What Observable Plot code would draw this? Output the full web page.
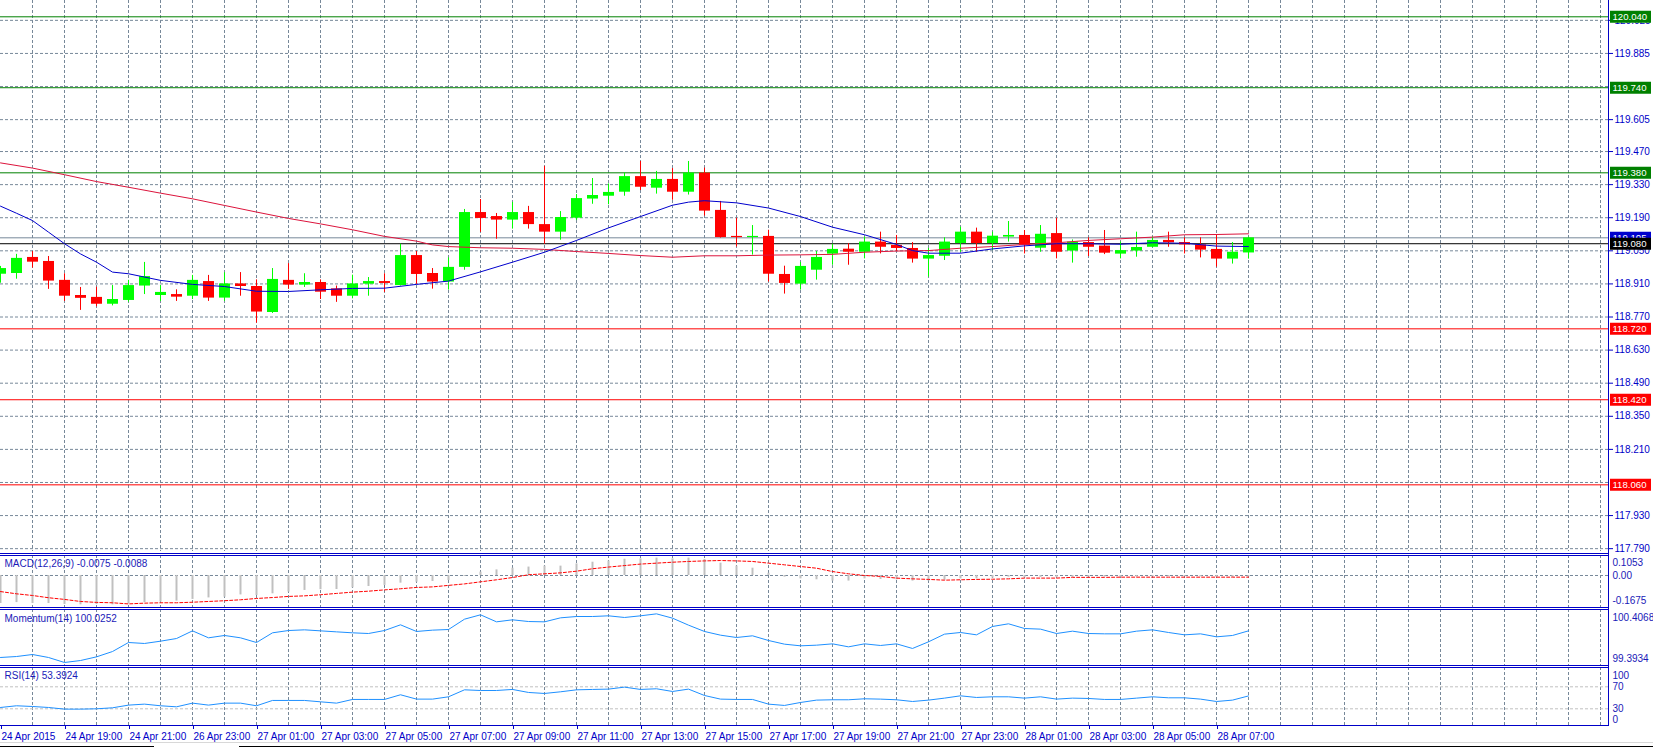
<!DOCTYPE html>
<html><head><meta charset="utf-8">
<script src="https://cdn.jsdelivr.net/npm/d3@7"></script>
<script src="https://cdn.jsdelivr.net/npm/@observablehq/plot@0.6"></script>
<style>
html,body{margin:0;padding:0;background:#fff;}
#chart{position:relative;width:1653px;height:747px;overflow:hidden;background:#fff;}
#chart svg{position:absolute;left:0;max-width:none !important;}
.hl{position:absolute;height:1px;}
</style></head><body><div id="chart"></div>
<script>
// ---------- DATA ----------
const open = [118.951,118.954,119.022,119.005,118.925,118.861,118.853,118.824,118.840,118.901,118.861,118.865,118.858,118.920,118.850,118.910,118.899,118.789,118.925,118.905,118.916,118.889,118.858,118.909,118.920,118.903,119.030,118.954,118.918,118.980,119.212,119.195,119.180,119.212,119.161,119.129,119.188,119.269,119.281,119.298,119.364,119.315,119.352,119.298,119.379,119.221,119.111,119.106,119.111,118.950,118.909,118.968,119.036,119.057,119.044,119.087,119.073,119.060,119.015,119.027,119.081,119.129,119.081,119.108,119.115,119.061,119.123,119.049,119.085,119.070,119.036,119.049,119.065,119.094,119.085,119.075,119.056,119.015,119.041];
const high = [118.984,119.035,119.047,119.026,118.953,118.895,118.896,118.903,118.925,119.001,118.903,118.885,118.946,118.946,118.957,118.958,118.927,118.975,118.996,118.953,118.927,118.901,118.947,118.937,118.953,119.078,119.047,118.975,119.020,119.225,119.267,119.208,119.255,119.238,119.407,119.216,119.288,119.356,119.333,119.379,119.428,119.386,119.398,119.428,119.400,119.259,119.188,119.157,119.137,118.985,119.001,119.047,119.078,119.080,119.108,119.129,119.115,119.085,119.060,119.105,119.150,119.146,119.129,119.174,119.136,119.157,119.188,119.096,119.105,119.136,119.087,119.129,119.108,119.129,119.105,119.105,119.118,119.085,119.108];
const low = [118.913,118.930,118.977,118.887,118.836,118.798,118.813,118.817,118.833,118.865,118.836,118.836,118.844,118.836,118.836,118.858,118.744,118.785,118.887,118.895,118.844,118.832,118.847,118.858,118.874,118.901,118.908,118.888,118.884,118.968,119.128,119.099,119.142,119.142,119.078,119.095,119.178,119.247,119.245,119.281,119.305,119.290,119.264,119.286,119.197,119.104,119.066,119.032,118.918,118.867,118.884,118.926,118.989,118.989,119.016,119.037,119.047,118.998,118.939,119.009,119.044,119.044,119.051,119.087,119.037,119.044,119.016,118.998,119.026,119.034,119.016,119.023,119.063,119.065,119.037,119.020,118.981,118.994,119.015];
const close = [118.975,119.018,119.002,118.922,118.858,118.849,118.824,118.844,118.903,118.941,118.874,118.854,118.925,118.850,118.910,118.899,118.791,118.929,118.905,118.916,118.875,118.858,118.910,118.920,118.912,119.030,118.950,118.918,118.980,119.212,119.187,119.180,119.212,119.161,119.129,119.191,119.271,119.284,119.297,119.364,119.319,119.352,119.298,119.379,119.218,119.106,119.106,119.111,118.951,118.912,118.984,119.022,119.056,119.044,119.087,119.065,119.060,119.015,119.030,119.087,119.129,119.081,119.112,119.115,119.073,119.120,119.044,119.087,119.065,119.040,119.051,119.064,119.094,119.084,119.075,119.053,119.015,119.044,119.105];

const fastIdx = [0,1,2,3,4,5,6,7,8,10,12,14,16,18,20,22,24,26,28,30,32,34,36,38,40,42,43,44,46,48,50,52,54,56,57,58,60,62,64,66,68,70,72,74,76,78];
const fastVal = [119.239,119.209,119.178,119.129,119.080,119.037,119.002,118.960,118.953,118.925,118.908,118.899,118.879,118.878,118.885,118.891,118.892,118.908,118.922,118.961,119.002,119.044,119.094,119.147,119.195,119.243,119.256,119.262,119.253,119.231,119.195,119.150,119.118,119.077,119.051,119.040,119.040,119.058,119.071,119.080,119.080,119.078,119.084,119.082,119.070,119.068];
const slowIdx = [0,2,4,6,8,10,12,14,16,18,20,22,24,26,27,28,30,32,34,36,38,40,42,44,46,48,50,52,54,56,58,60,62,64,66,68,70,72,74,76,78];
const slowVal = [119.422,119.400,119.372,119.343,119.319,119.294,119.270,119.242,119.214,119.187,119.164,119.139,119.111,119.091,119.075,119.068,119.063,119.061,119.056,119.047,119.039,119.030,119.023,119.029,119.029,119.032,119.033,119.035,119.044,119.049,119.051,119.061,119.068,119.077,119.084,119.094,119.101,119.108,119.118,119.119,119.122];

const macdMain = [-0.150,-0.145,-0.150,-0.150,-0.155,-0.157,-0.155,-0.157,-0.152,-0.145,-0.142,-0.137,-0.128,-0.120,-0.116,-0.104,-0.107,-0.098,-0.089,-0.080,-0.076,-0.075,-0.066,-0.059,-0.053,-0.041,-0.036,-0.032,-0.027,-0.005,0.018,0.030,0.039,
0.045,0.050,0.050,0.062,0.071,0.077,0.087,0.089,0.093,0.089,0.093,0.086,0.066,0.050,0.039,0.012,-0.009,-0.018,-0.023,-0.030,-0.030,-0.018,-0.021,-0.023,-0.030,-0.030,-0.025,-0.018,-0.018,-0.014,-0.009,-0.012,
-0.010,-0.012,-0.010,-0.008,-0.008,-0.009,-0.008,-0.006,-0.005,-0.006,-0.007,-0.010,-0.010,-0.0075];
const macdSignal = [-0.086,-0.098,-0.107,-0.119,-0.128,-0.139,-0.144,-0.146,-0.152,-0.148,-0.146,-0.146,-0.143,-0.139,-0.135,-0.130,-0.123,-0.118,-0.112,-0.109,-0.103,-0.096,-0.089,-0.084,-0.077,-0.071,-0.064,-0.061,-0.053,-0.045,-0.034,-0.023,-0.011,
0.004,0.009,0.014,0.023,0.036,0.045,0.053,0.061,0.066,0.071,0.075,0.078,0.080,0.078,0.075,0.066,0.057,0.048,0.039,0.021,0.009,0.000,-0.005,-0.014,-0.018,-0.021,-0.025,-0.023,-0.021,-0.020,-0.018,-0.014,
-0.014,-0.014,-0.010,-0.010,-0.010,-0.009,-0.009,-0.009,-0.009,-0.009,-0.009,-0.009,-0.009,-0.0088];
const momentum = [99.525,99.543,99.581,99.525,99.431,99.468,99.537,99.637,99.806,99.788,99.831,99.881,100.025,99.894,99.938,99.894,99.806,99.988,100.031,100.044,100.025,100.006,99.988,99.975,100.031,100.138,100.013,100.038,100.050,100.244,100.326,100.194,100.232,
100.200,100.194,100.269,100.294,100.294,100.307,100.276,100.307,100.344,100.263,100.132,100.013,99.944,99.900,99.932,99.844,99.775,99.744,99.756,99.781,99.725,99.781,99.750,99.781,99.694,99.819,99.963,99.994,99.950,100.107,100.157,100.069,
100.057,99.975,100.019,99.975,99.969,99.969,100.019,100.044,99.994,99.950,99.969,99.913,99.938,100.025];
const rsi = [32.4,35.5,34.2,32.4,29.4,29.4,30.0,31.8,36.7,38.5,35.5,33.6,40.3,36.7,40.3,40.3,35.5,45.2,45.2,45.2,42.7,40.3,47.0,47.0,47.0,55.5,47.6,47.6,51.8,64.5,63.3,63.3,65.2,
59.7,57.9,60.9,64.5,65.2,65.8,69.4,65.2,66.4,61.5,65.8,54.2,47.6,47.0,47.0,38.5,36.1,41.5,45.8,46.4,46.4,48.2,47.6,46.4,43.3,45.8,49.4,53.6,50.6,51.8,51.8,49.4,
51.8,47.6,49.4,48.8,47.0,47.0,49.4,51.8,50.0,50.0,47.6,43.3,45.8,53.39];

// grid levels of the price panel, and the tick labels that are visible (others sit under level boxes)
const priceTicks = [120.025,119.885,119.745,119.605,119.470,119.330,119.190,119.050,118.910,118.770,118.630,118.490,118.350,118.210,118.070,117.930,117.790];
const priceTickLabels = [120.025,119.885,119.605,119.470,119.330,119.190,119.050,118.910,118.770,118.630,118.490,118.350,118.210,117.930,117.790];
const greenLevels = [120.040,119.740,119.380];
const redLevels = [118.720,118.420,118.060];
const bidLevel = [119.105];
const markLevel = [119.080];

const timeTickIdx = [0,4,8,12,16,20,24,28,32,36,40,44,48,52,56,60,64,68,72,76];
const timeLabels = ["24 Apr 2015","24 Apr 19:00","24 Apr 21:00","26 Apr 23:00","27 Apr 01:00","27 Apr 03:00","27 Apr 05:00","27 Apr 07:00","27 Apr 09:00","27 Apr 11:00","27 Apr 13:00","27 Apr 15:00","27 Apr 17:00","27 Apr 19:00","27 Apr 21:00","27 Apr 23:00","28 Apr 01:00","28 Apr 03:00","28 Apr 05:00","28 Apr 07:00"];

const macdTitle = "MACD(12,26,9) -0.0075 -0.0088";
const momTitle = "Momentum(14) 100.0252";
const rsiTitle = "RSI(14) 53.3924";
const macdTicks = [0.1053, 0, -0.1675], macdTickText = ["0.1053","0.00","-0.1675"];
const momTicks = [100.4068, 99.3934], momTickText = ["100.4068","99.3934"];
const rsiTicks = [100, 70, 30, 0];

// ---------- STYLE ----------
const FONT = '"Liberation Sans", Arial, sans-serif';
const FS = 10;
const AXIS = "#0000c8", TXT = "#1a1ab8", GRID = "#778899";
const UP = "#00ff00", DN = "#ff0000";
const gridIdx = d3.range(2, 101, 2);
const xOpt = {domain: [0, 100.5], range: [0, 1608], axis: null};

const candles = open.map((o, i) => ({i, open: o, high: high[i], low: low[i], close: close[i]}));
const cColor = d => d.close >= d.open ? UP : DN;
const fmt3 = d3.format(".3f");

function mk(top, h, mt, mb, yOpt, marks) {
  const svg = Plot.plot({
    width: 1653, height: h, marginTop: mt, marginBottom: mb, marginLeft: 0, marginRight: 45,
    x: xOpt, y: {...yOpt, axis: null}, color: {type: "identity"},
    style: {fontFamily: FONT, fontSize: FS + "px", background: "transparent", overflow: "visible"},
    marks
  });
  svg.style.top = top + "px";
  document.getElementById("chart").appendChild(svg);
}

function levelBox(vals, color) {
  return [
    Plot.ruleY(vals, {stroke: color, strokeWidth: 12, insetLeft: 1610, insetRight: -43}),
    Plot.text(vals, {y: d => d, text: d => fmt3(d), frameAnchor: "right", textAnchor: "start", dx: 4, fill: "#ffffff", fontSize: 9.6})
  ];
}
function sideLabel(vals, texts, anchor, dy) {
  return Plot.text(vals, {y: d => d, text: (d, k) => texts[k], frameAnchor: "right", textAnchor: "start", lineAnchor: anchor, dx: 4, dy, fill: TXT, fontSize: FS});
}

// ---------- MAIN PRICE PANEL ----------
mk(0, 553, 0, 2, {domain: [117.778, 120.109], range: [551, 0]}, [
  Plot.ruleX(gridIdx, {stroke: GRID, strokeDasharray: "3,2"}),
  Plot.ruleY(priceTicks, {stroke: GRID, strokeDasharray: "3,2"}),
  Plot.ruleY(greenLevels, {stroke: "#008000"}),
  Plot.ruleY(redLevels, {stroke: "#ff0000"}),
  Plot.ruleY(bidLevel, {stroke: GRID}),
  Plot.ruleY(markLevel, {stroke: "#000000"}),
  Plot.ruleX(candles, {x: "i", y1: "low", y2: "high", stroke: cColor, strokeWidth: 1}),
  Plot.ruleX(candles, {x: "i", y1: "open", y2: "close", stroke: cColor, strokeWidth: 11}),
  Plot.line(slowVal, {x: (d, k) => slowIdx[k], y: d => d, stroke: "#dc143c", strokeWidth: 1}),
  Plot.line(fastVal, {x: (d, k) => fastIdx[k], y: d => d, stroke: "#0000cd", strokeWidth: 1}),
  Plot.axisY(priceTickLabels, {anchor: "right", tickSize: 4, tickPadding: 2, tickFormat: fmt3, color: AXIS, fontSize: FS}),
  ...levelBox(greenLevels, "#008000"),
  ...levelBox(redLevels, "#ff0000"),
  ...levelBox(bidLevel, "#0000cd"),
  ...levelBox(markLevel, "#000000")
]);

// ---------- MACD PANEL ----------
mk(553, 54, 2, 0, {domain: [-0.1675, 0.1053], range: [53.3, 2.3]}, [
  Plot.ruleX(gridIdx, {stroke: GRID, strokeDasharray: "3,2"}),
  Plot.ruleY([0], {stroke: GRID, strokeDasharray: "3,2"}),
  Plot.ruleX(macdMain, {x: (d, k) => k, y1: 0, y2: d => d, stroke: "#c0c0c0", strokeWidth: 2}),
  Plot.line(macdSignal, {x: (d, k) => k, y: d => d, stroke: "#ff0000", strokeWidth: 1, strokeDasharray: "3,2"}),
  Plot.text([macdTitle], {frameAnchor: "top-left", text: d => d, textAnchor: "start", lineAnchor: "top", dx: 4, dy: 4.3, fill: TXT, fontSize: FS}),
  sideLabel([macdTicks[0]], [macdTickText[0]], "top", 3),
  sideLabel([macdTicks[1]], [macdTickText[1]], "middle", 0),
  sideLabel([macdTicks[2]], [macdTickText[2]], "bottom", -3)
]);

// ---------- MOMENTUM PANEL ----------
mk(607, 60, 2, 2, {domain: [99.3934, 100.4068], range: [57, 3]}, [
  Plot.ruleX(gridIdx, {stroke: GRID, strokeDasharray: "3,2"}),
  Plot.line(momentum, {x: (d, k) => k, y: d => d, stroke: "#1e90ff", strokeWidth: 1}),
  Plot.text([momTitle], {frameAnchor: "top-left", text: d => d, textAnchor: "start", lineAnchor: "top", dx: 4, dy: 5.7, fill: TXT, fontSize: FS}),
  sideLabel([momTicks[0]], [momTickText[0]], "top", 3.3),
  sideLabel([momTicks[1]], [momTickText[1]], "bottom", -2.7)
]);

// ---------- RSI PANEL + TIME AXIS ----------
const timeMap = new Map(timeTickIdx.map((d, k) => [d, timeLabels[k]]));
mk(667, 80, 0, 22, {domain: [0, 100], range: [57.8, 2.8]}, [
  Plot.ruleX(gridIdx, {stroke: GRID, strokeDasharray: "3,2"}),
  Plot.ruleY([70, 30], {stroke: "#c0c0c0", strokeDasharray: "3,2"}),
  Plot.line(rsi, {x: (d, k) => k, y: d => d, stroke: "#1e90ff", strokeWidth: 1}),
  Plot.text([rsiTitle], {frameAnchor: "top-left", text: d => d, textAnchor: "start", lineAnchor: "top", dx: 4, dy: 4.7, fill: TXT, fontSize: FS}),
  sideLabel([rsiTicks[0]], ["100"], "top", 2),
  sideLabel([rsiTicks[1], rsiTicks[2]], ["70", "30"], "middle", 0),
  sideLabel([rsiTicks[3]], ["0"], "bottom", -2),
  Plot.axisX(timeTickIdx, {anchor: "bottom", tickSize: 4, tickPadding: 3, tickFormat: d => timeMap.get(d), textAnchor: "start", dx: 1, color: AXIS, fontSize: FS})
]);

// ---------- PANEL BORDERS (decoration) ----------
const chart = document.getElementById("chart");
function hline(y, x0, x1, color) {
  const d = document.createElement("div");
  d.className = "hl";
  d.style.top = y + "px"; d.style.left = x0 + "px"; d.style.width = (x1 - x0) + "px"; d.style.background = color;
  chart.appendChild(d);
}
[553, 555, 607, 609, 665, 667, 725].forEach(y => hline(y, 0, 1609, AXIS));
const vl = document.createElement("div");
vl.style.cssText = "position:absolute;left:1608px;top:0;width:1px;height:726px;background:" + AXIS;
chart.appendChild(vl);
hline(742, 0, 1653, "#d8d8d8");
hline(746, 0, 154, "#000000");
hline(746, 239, 1653, "#000000");
</script></body></html>
